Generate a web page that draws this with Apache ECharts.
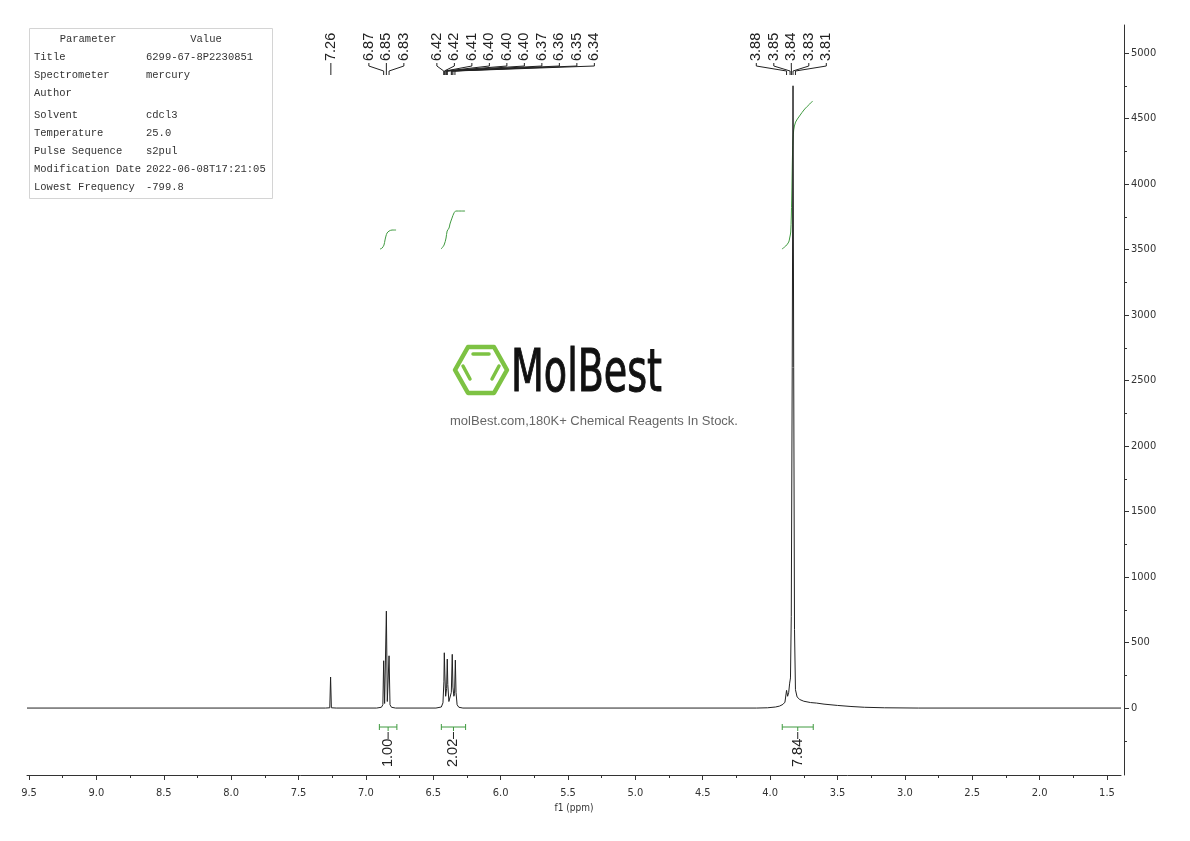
<!DOCTYPE html>
<html><head><meta charset="utf-8">
<script src="https://cdn.jsdelivr.net/npm/echarts@6/dist/echarts.min.js"></script>
<style>html,body{margin:0;padding:0;background:#fff}#c{width:1190px;height:841px}</style>
</head><body><div id="c"></div>
<script>
// ---------- data ----------
const xMajorTicks = [9.5, 9.0, 8.5, 8.0, 7.5, 7.0, 6.5, 6.0, 5.5, 5.0, 4.5, 4.0, 3.5, 3.0, 2.5, 2.0, 1.5];
const xMinorTicks = [9.25, 8.75, 8.25, 7.75, 7.25, 6.75, 6.25, 5.75, 5.25, 4.75, 4.25, 3.75, 3.25, 2.75, 2.25, 1.75];
const yMajorTicks = [0, 500, 1000, 1500, 2000, 2500, 3000, 3500, 4000, 4500, 5000];
const yMinorTicks = [-250, 250, 750, 1250, 1750, 2250, 2750, 3250, 3750, 4250, 4750];

// spectrum [ppm, intensity]
const spectrum = [
  [9.515, 0], [7.30, 0], [7.268, 2], [7.262, 237], [7.256, 2], [7.22, 0],
  [6.92, 0], [6.885, 6], [6.874, 25], [6.868, 361], [6.861, 35], [6.855, 45], [6.848, 740],
  [6.841, 50], [6.835, 40], [6.828, 399], [6.821, 25], [6.810, 6], [6.78, 0],
  [6.48, 0], [6.440, 8], [6.428, 40], [6.421, 200], [6.418, 422], [6.414, 260], [6.408, 90],
  [6.401, 150], [6.396, 374], [6.392, 180], [6.384, 50], [6.374, 40], [6.366, 120], [6.359, 410],
  [6.354, 160], [6.347, 90], [6.342, 110], [6.336, 366], [6.331, 120], [6.323, 25], [6.31, 6], [6.28, 0],
  [4.10, 0], [4.02, 2], [4.014, 10], [4.008, 3], [3.96, 8], [3.93, 15], [3.905, 28], [3.89, 45],
  [3.878, 135], [3.870, 90], [3.862, 120], [3.855, 190], [3.849, 230], [3.843, 700], [3.836, 2600],
  [3.830, 4750], [3.825, 2600], [3.819, 600], [3.812, 140], [3.80, 85], [3.78, 65], [3.75, 52],
  [3.70, 42], [3.655, 38], [3.649, 46], [3.643, 36], [3.60, 30], [3.50, 20], [3.40, 12], [3.30, 6],
  [3.15, 2], [2.90, 0], [1.396, 0]
];

// integral curves [ppm, height in intensity units]
const integral1 = [[6.895, 3504], [6.880, 3511], [6.866, 3534], [6.858, 3573], [6.851, 3603], [6.843, 3626], [6.828, 3641], [6.806, 3649], [6.776, 3649]];
const integral2 = [[6.442, 3504], [6.420, 3534], [6.405, 3588], [6.397, 3641], [6.383, 3664], [6.376, 3695], [6.361, 3740], [6.346, 3779], [6.332, 3794], [6.264, 3794]];
const integral3 = [[3.912, 3504], [3.884, 3527], [3.862, 3557], [3.855, 3588], [3.847, 3634], [3.840, 3878], [3.833, 4260], [3.825, 4412], [3.811, 4473], [3.782, 4519], [3.743, 4573], [3.706, 4611], [3.684, 4634]];

const integralRanges = [[6.90, 6.77], [6.44, 6.26], [3.91, 3.68]];
const integralValues = ['1.00', '2.02', '7.84'];

const peakGroups = [
  [7.260],
  [6.868, 6.848, 6.828],
  [6.422, 6.418, 6.412, 6.404, 6.399, 6.396, 6.366, 6.361, 6.354, 6.339],
  [3.878, 3.852, 3.842, 3.830, 3.812]
];

const paramNames = ['Title', 'Spectrometer', 'Author', 'Solvent', 'Temperature', 'Pulse Sequence', 'Modification Date', 'Lowest Frequency'];
const paramValues = ['6299-67-8P2230851', 'mercury', '', 'cdcl3', '25.0', 's2pul', '2022-06-08T17:21:05', '-799.8'];

const xAxisName = 'f1 (ppm)';
const logoText = 'MolBest';
const logoSub = 'molBest.com,180K+ Chemical Reagents In Stock.';

// ---------- styles ----------
const NARROW = '"Liberation Sans Narrow","DejaVu Sans Condensed","Roboto Condensed","Arial Narrow",sans-serif';
const SANS = '"Liberation Sans",Arial,sans-serif';
const MONO = '"Liberation Mono","DejaVu Sans Mono",monospace';
const GREEN = '#3f9a3f';
const INK = '#222';
const X_MIN = 1.396, X_MAX = 9.515, Y_MIN = -511, Y_MAX = 5214;
const GRID = { left: 27, right: 69, top: 25, bottom: 66 };

const chart = echarts.init(document.getElementById('c'), null, { renderer: 'canvas' });

const integralSeries = [integral1, integral2, integral3].map(d => ({
  type: 'line', data: d, xAxisIndex: 0, yAxisIndex: 0, showSymbol: false, smooth: 0.3,
  lineStyle: { color: GREEN, width: 1 }, silent: true, animation: false, z: 2
}));

chart.setOption({
  animation: false,
  backgroundColor: '#fff',
  grid: [Object.assign({}, GRID), Object.assign({}, GRID)],
  xAxis: [{
    type: 'value', gridIndex: 0, min: X_MIN, max: X_MAX, inverse: true, position: 'bottom',
    axisLine: { show: true, onZero: false, lineStyle: { color: '#333', width: 1 } },
    axisTick: { show: true, customValues: xMajorTicks, length: 5, lineStyle: { color: '#333' } },
    axisLabel: { show: true, customValues: xMajorTicks, formatter: v => v.toFixed(1), margin: 13,
      fontFamily: NARROW, fontSize: 11, color: '#333' },
    splitLine: { show: false },
    name: xAxisName, nameLocation: 'middle', nameGap: 26,
    nameTextStyle: { fontFamily: NARROW, fontSize: 10, color: '#333' }
  }, {
    type: 'value', gridIndex: 1, min: X_MIN, max: X_MAX, inverse: true, position: 'bottom',
    axisLine: { show: false, onZero: false },
    axisTick: { show: true, customValues: xMinorTicks, length: 3, lineStyle: { color: '#333' } },
    axisLabel: { show: false }, splitLine: { show: false }
  }],
  yAxis: [{
    type: 'value', gridIndex: 0, min: Y_MIN, max: Y_MAX, position: 'right', offset: 3,
    axisLine: { show: true, onZero: false, lineStyle: { color: '#333', width: 1 } },
    axisTick: { show: true, customValues: yMajorTicks, length: 5, lineStyle: { color: '#333' } },
    axisLabel: { show: true, customValues: yMajorTicks, formatter: v => String(v), margin: 7,
      fontFamily: NARROW, fontSize: 11, color: '#333' },
    splitLine: { show: false }
  }, {
    type: 'value', gridIndex: 1, min: Y_MIN, max: Y_MAX, position: 'right', offset: 3,
    axisLine: { show: false, onZero: false },
    axisTick: { show: true, customValues: yMinorTicks, length: 3, lineStyle: { color: '#333' } },
    axisLabel: { show: false }, splitLine: { show: false }
  }],
  series: [{
    type: 'line', data: spectrum, xAxisIndex: 0, yAxisIndex: 0, showSymbol: false,
    sampling: 'none', lineStyle: { color: INK, width: 1 }, silent: true, animation: false, z: 3
  }].concat(integralSeries)
});

// ---------- annotations via the library's scale ----------
const toX = v => chart.convertToPixel({ xAxisIndex: 0 }, v);
const els = [];

// peak labels
const LABEL_SPACING = 17.5, GROUP_GAP = 33, LABEL_FOOT = 61;
let prevEnd = -Infinity;
peakGroups.forEach(g => {
  const px = g.map(toX);
  const mean = px.reduce((a, b) => a + b, 0) / px.length;
  let start = mean - (g.length - 1) * LABEL_SPACING / 2;
  if (start < prevEnd + GROUP_GAP) start = prevEnd + GROUP_GAP;
  g.forEach((v, i) => {
    const lx = start + i * LABEL_SPACING;
    els.push({ type: 'text', x: lx, y: LABEL_FOOT, rotation: Math.PI / 2, silent: true,
      style: { text: v.toFixed(2), fontFamily: SANS, fontSize: 14.5, fill: INK, align: 'left', verticalAlign: 'middle' } });
    els.push({ type: 'polyline', silent: true,
      shape: { points: [[lx, LABEL_FOOT + 2], [lx, LABEL_FOOT + 5], [px[i], LABEL_FOOT + 10], [px[i], LABEL_FOOT + 14]] },
      style: { stroke: INK, lineWidth: 1, fill: null } });
  });
  prevEnd = start + (g.length - 1) * LABEL_SPACING;
});

// integral brackets
const BR_Y = 727;
integralRanges.forEach((r, i) => {
  const x1 = toX(r[0]), x2 = toX(r[1]), xc = (x1 + x2) / 2;
  els.push({ type: 'polyline', silent: true, shape: { points: [[x1, BR_Y], [x2, BR_Y]] }, style: { stroke: GREEN, lineWidth: 1 } });
  els.push({ type: 'polyline', silent: true, shape: { points: [[x1, BR_Y - 3], [x1, BR_Y + 3]] }, style: { stroke: GREEN, lineWidth: 1 } });
  els.push({ type: 'polyline', silent: true, shape: { points: [[x2, BR_Y - 3], [x2, BR_Y + 3]] }, style: { stroke: GREEN, lineWidth: 1 } });
  els.push({ type: 'polyline', silent: true, shape: { points: [[xc, BR_Y], [xc, BR_Y + 4]] }, style: { stroke: GREEN, lineWidth: 1 } });
  els.push({ type: 'polyline', silent: true, shape: { points: [[xc, BR_Y + 5], [xc, BR_Y + 12]] }, style: { stroke: INK, lineWidth: 1 } });
  els.push({ type: 'text', x: xc, y: 767, rotation: Math.PI / 2, silent: true,
    style: { text: integralValues[i], fontFamily: SANS, fontSize: 14.5, fill: INK, align: 'left', verticalAlign: 'middle' } });
});

// parameter table
els.push({ type: 'rect', silent: true, shape: { x: 29.5, y: 28.5, width: 243, height: 170 }, style: { fill: '#fff', stroke: '#d4d4d4', lineWidth: 1 } });
els.push({ type: 'text', silent: true, x: 88, y: 39, style: { text: 'Parameter', fontFamily: MONO, fontSize: 10.5, fill: '#333', align: 'center', verticalAlign: 'middle' } });
els.push({ type: 'text', silent: true, x: 206, y: 39, style: { text: 'Value', fontFamily: MONO, fontSize: 10.5, fill: '#333', align: 'center', verticalAlign: 'middle' } });
paramNames.forEach((n, i) => {
  const y = 57 + i * 18 + (i >= 3 ? 4 : 0);
  els.push({ type: 'text', silent: true, x: 34, y: y, style: { text: n, fontFamily: MONO, fontSize: 10.5, fill: '#333', align: 'left', verticalAlign: 'middle' } });
  els.push({ type: 'text', silent: true, x: 146, y: y, style: { text: paramValues[i], fontFamily: MONO, fontSize: 10.5, fill: '#333', align: 'left', verticalAlign: 'middle' } });
});

// logo
const LG = '#7dc243';
els.push({ type: 'polygon', silent: true,
  shape: { points: [[455, 370], [468, 347], [494, 347], [507, 370], [494, 393], [468, 393]] },
  style: { fill: null, stroke: LG, lineWidth: 4.5, lineJoin: 'round' } });
els.push({ type: 'polyline', silent: true, shape: { points: [[473, 354], [489, 354]] }, style: { stroke: LG, lineWidth: 3.5, lineCap: 'round' } });
els.push({ type: 'polyline', silent: true, shape: { points: [[463, 366], [470, 379]] }, style: { stroke: LG, lineWidth: 3.5, lineCap: 'round' } });
els.push({ type: 'polyline', silent: true, shape: { points: [[499, 366], [492, 379]] }, style: { stroke: LG, lineWidth: 3.5, lineCap: 'round' } });
const LOGO_FS = 58;
const ctx = document.createElement('canvas').getContext('2d');
ctx.font = LOGO_FS + 'px ' + NARROW;
const logoW = ctx.measureText(logoText).width || 150;
els.push({ type: 'text', silent: true, x: 511, y: 376, scaleX: 151 / logoW, scaleY: 1,
  style: { text: logoText, fontFamily: NARROW, fontSize: LOGO_FS, fill: '#111', align: 'left', verticalAlign: 'middle',
    stroke: '#111', lineWidth: 1 } });
els.push({ type: 'text', silent: true, x: 594, y: 421,
  style: { text: logoSub, fontFamily: SANS, fontSize: 13, fill: '#666', align: 'center', verticalAlign: 'middle' } });

chart.setOption({ graphic: { elements: els } });
</script>
</body></html>
